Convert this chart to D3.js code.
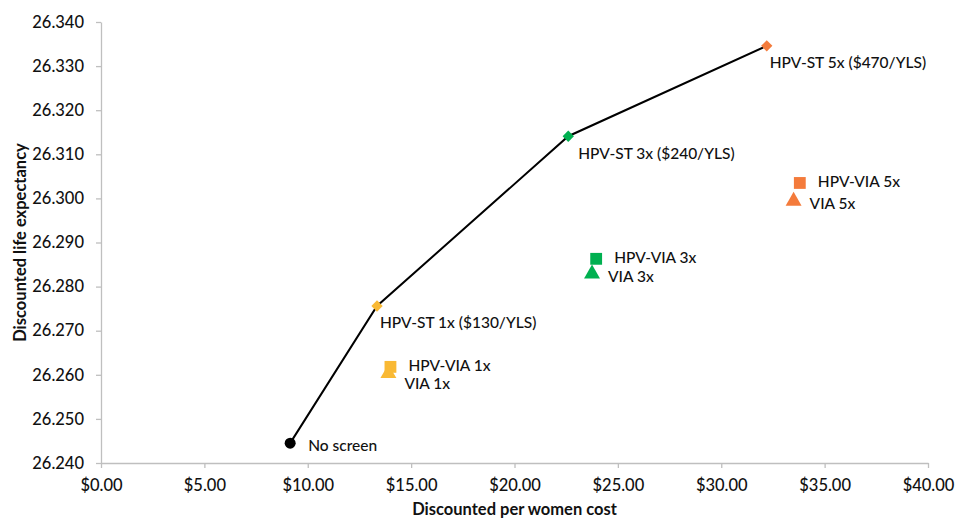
<!DOCTYPE html>
<html>
<head>
<meta charset="utf-8">
<script src="https://cdn.jsdelivr.net/npm/d3@7"></script>
<style>
  body { margin: 0; background: #fff; }
  svg text { font-family: Lato, "Open Sans", sans-serif; fill: #111; }
</style>
</head>
<body>
<svg id="chart" width="955" height="520"></svg>
<script>
// data
var strategies = ["No screen", "HPV-ST 1x ($130/YLS)", "HPV-ST 3x ($240/YLS)", "HPV-ST 5x ($470/YLS)",
                  "HPV-VIA 1x", "VIA 1x", "HPV-VIA 3x", "VIA 3x", "HPV-VIA 5x", "VIA 5x"];
var cost = [9.15, 13.35, 22.6, 32.2, 14.0, 13.9, 23.95, 23.75, 33.8, 33.5];
var lifeExp = [26.2445, 26.2756, 26.3141, 26.3346, 26.2618, 26.2603, 26.2863, 26.2829, 26.3035, 26.2994];
var shapes = ["circle", "diamond", "diamond", "diamond", "square", "triangle", "square", "triangle", "square", "triangle"];
var colours = ["#000000", "#F9B934", "#00B050", "#F47B3B", "#F9B934", "#F9B934", "#00B050", "#00B050", "#F47B3B", "#F47B3B"];
var frontier = ["No screen", "HPV-ST 1x ($130/YLS)", "HPV-ST 3x ($240/YLS)", "HPV-ST 5x ($470/YLS)"];
var xTicks = [0, 5, 10, 15, 20, 25, 30, 35, 40];
var yTicks = [26.24, 26.25, 26.26, 26.27, 26.28, 26.29, 26.30, 26.31, 26.32, 26.33, 26.34];

var svg = d3.select("#chart");
var plotLeft = 101, plotRight = 928, plotTop = 22, plotBottom = 463;

var x = d3.scaleLinear().domain([0, 40]).range([plotLeft, plotRight]);
var y = d3.scaleLinear().domain([26.24, 26.34]).range([plotBottom, plotTop]);

var points = strategies.map(function(s, i) {
  return {name: s, cost: cost[i], le: lifeExp[i], shape: shapes[i], color: colours[i]};
});

// axes
var xAxis = d3.axisBottom(x).tickValues(xTicks).tickSize(5).tickSizeOuter(0)
  .tickFormat(function(d) { return "$" + d3.format(".2f")(d); });
var yAxis = d3.axisLeft(y).tickValues(yTicks).tickSize(5).tickSizeOuter(0)
  .tickFormat(d3.format(".3f"));

var gx = svg.append("g").attr("transform", "translate(0," + plotBottom + ")").call(xAxis);
var gy = svg.append("g").attr("transform", "translate(" + plotLeft + ",0)").call(yAxis);
[gx, gy].forEach(function(g) {
  g.selectAll("path, line").attr("stroke", "#bfbfbf").attr("stroke-width", 1.3);
  g.selectAll("text").style("font-size", "16.5px").style("font-weight", 500).attr("fill", "#111");
});
gx.selectAll("text").attr("dy", "1.2em");
gy.selectAll("text").attr("dx", "-9");

svg.append("text")
  .attr("transform", "translate(20," + ((plotTop + plotBottom) / 2) + ") rotate(-90)")
  .attr("text-anchor", "middle").attr("dy", "0.35em")
  .style("font-size", "16.5px").style("font-weight", "bold")
  .text("Discounted life expectancy");
svg.append("text")
  .attr("x", (plotLeft + plotRight) / 2).attr("y", 515)
  .attr("text-anchor", "middle")
  .style("font-size", "16.5px").style("font-weight", "bold")
  .text("Discounted per women cost");

// frontier line
var byName = {};
points.forEach(function(p) { byName[p.name] = p; });
var line = d3.line().x(function(d) { return x(d.cost); }).y(function(d) { return y(d.le); });
svg.append("path")
  .datum(frontier.map(function(n) { return byName[n]; }))
  .attr("d", line)
  .attr("fill", "none").attr("stroke", "#000").attr("stroke-width", 2);

// markers (excel-style diamond = square turned 45deg)
var symbolType = {circle: d3.symbolCircle, diamond: d3.symbolSquare, square: d3.symbolSquare, triangle: d3.symbolTriangle};
var symbolSize = {circle: 95, diamond: 64, square: 140, triangle: 110};
svg.selectAll(".pt").data(points).enter().append("path")
  .attr("class", "pt")
  .attr("transform", function(d) {
    return "translate(" + x(d.cost) + "," + y(d.le) + ")" + (d.shape === "diamond" ? " rotate(45)" : "");
  })
  .attr("d", function(d) { return d3.symbol().type(symbolType[d.shape]).size(symbolSize[d.shape])(); })
  .attr("fill", function(d) { return d.color; });

// labels, placed roughly as in the original
function labelOffset(d) {
  if (d.shape === "diamond") return d.name.indexOf("3x") > 0 ? [10, 17] : [3, 17];
  if (d.shape === "circle") return [18, 2];
  if (d.name === "VIA 1x") return [16, 10];
  if (d.shape === "triangle") return [16, 3];
  return [18, -1];
}
svg.selectAll(".lbl").data(points).enter().append("text")
  .attr("class", "lbl")
  .attr("x", function(d) { return x(d.cost) + labelOffset(d)[0]; })
  .attr("y", function(d) { return y(d.le) + labelOffset(d)[1]; })
  .attr("dy", "0.35em")
  .style("font-size", "15.5px")
  .style("font-weight", 500)
  .text(function(d) { return d.name; });
</script>
</body>
</html>
